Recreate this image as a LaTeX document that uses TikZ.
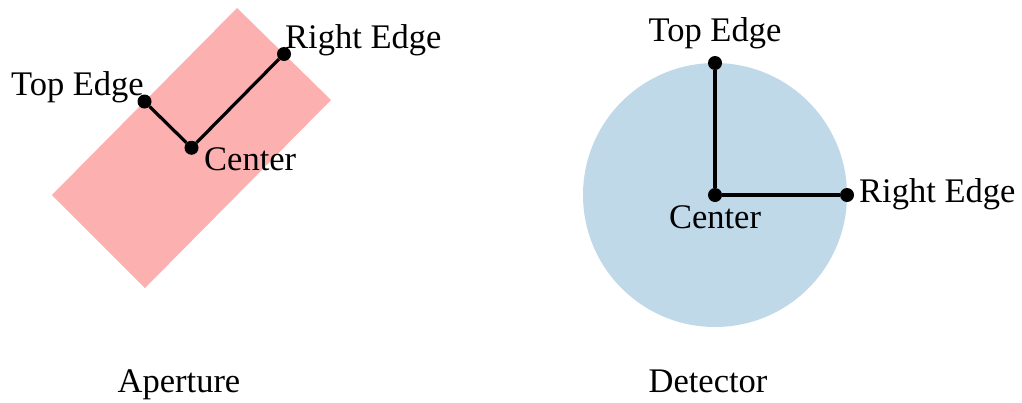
\documentclass[tikz,border=0pt]{standalone}
\usepackage{fontspec}
\setmainfont{Liberation Serif}
\definecolor{apink}{RGB}{252,176,176}
\definecolor{dblue}{RGB}{192,217,232}
\begin{document}
\begin{tikzpicture}[x=1pt,y=-1pt,
  lbl/.style={font=\fontsize{34.5}{40}\selectfont, inner sep=1pt},
  dotp/.style={circle, fill=black, minimum size=14pt, inner sep=0pt},
  seg/.style={line width=3.2pt, black}]
\useasboundingbox (0,0) rectangle (1022,402);
% Aperture
\fill[apink] (237,8) -- (331,100) -- (145,288) -- (52,195) -- cycle;
\node[dotp] (ac) at (191.5,147.75) {};
\node[dotp] (at) at (144.5,101.5) {};
\node[dotp] (ar) at (284,54) {};
\draw[seg] (at) -- (ac) -- (ar);
\node[lbl, anchor=south east] (atl) at (145,104) {Top Edge};
\node[lbl, anchor=south west] (arl) at (284,57) {Right Edge};
\node[lbl, anchor=north west] (acl) at (203,146) {Center};
\node[lbl, anchor=base] (aname) at (179,392) {Aperture};
% Detector
\fill[dblue] (715,195) circle (132);
\node[dotp] (dc) at (715,195) {};
\node[dotp] (dt) at (715,63) {};
\node[dotp] (dr) at (847,195) {};
\draw[seg] (dt) -- (dc) -- (dr);
\node[lbl, anchor=south] (dtl) at (715,50) {Top Edge};
\node[lbl, anchor=west] (drl) at (858,194) {Right Edge};
\node[lbl, anchor=north] (dcl) at (715,204) {Center};
\node[lbl, anchor=base] (dname) at (708,392) {Detector};
\end{tikzpicture}
\end{document}
